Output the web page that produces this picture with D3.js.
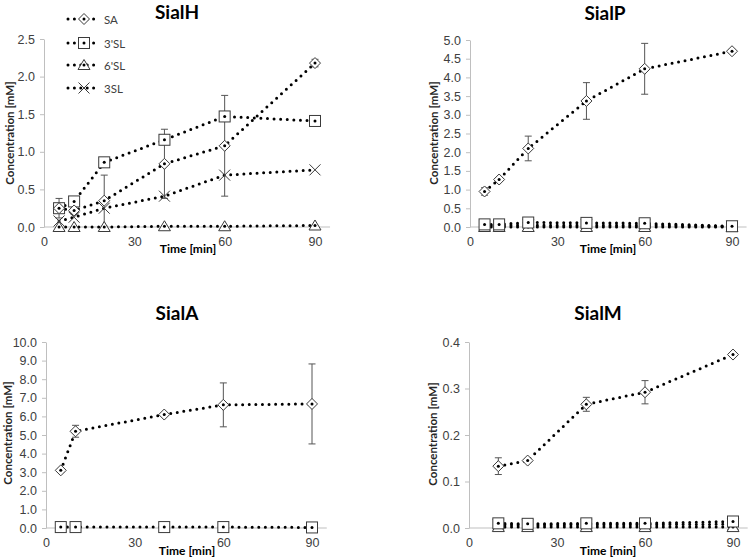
<!DOCTYPE html>
<html>
<head>
<meta charset="utf-8">
<script src="https://cdn.jsdelivr.net/npm/d3@7"></script>
<style>
  body { margin: 0; background: #fff; }
  svg { display: block; font-family: Lato, "Open Sans", sans-serif; }
</style>
</head>
<body>
<svg id="chart" width="750" height="557"></svg>
<script>
// ---------------- DATA ----------------
const seriesNames = ["SA", "3'SL", "6'SL", "3SL"];
const xTicks = [0, 30, 60, 90];

// SialH
const timesH = [5, 10, 20, 40, 60, 90];
const sialH_SA = [0.25, 0.22, 0.35, 0.84, 1.08, 2.18];
const sialH_SA_err = [0.13, 0.05, 0.34, 0.46, 0.67, 0.05];
const sialH_3SLp = [0.25, 0.34, 0.86, 1.16, 1.47, 1.41];
const sialH_6SLp = [0.0, 0.0, 0.0, 0.01, 0.01, 0.02];
const sialH_3SL = [0.08, 0.13, 0.25, 0.41, 0.69, 0.76];
const sialH_yTicks = [0.0, 0.5, 1.0, 1.5, 2.0, 2.5];

// SialP
const timesP = [5, 10, 20, 40, 60, 90];
const sialP_SA = [0.95, 1.27, 2.10, 3.37, 4.23, 4.70];
const sialP_SA_err = [0.10, 0.05, 0.33, 0.49, 0.68, 0.05];
const sialP_3SLp = [0.07, 0.07, 0.12, 0.11, 0.10, 0.02];
const sialP_6SLp = [0.0, 0.0, 0.0, 0.0, 0.0, 0.0];
const sialP_3SL = [0.04, 0.04, 0.05, 0.05, 0.05, 0.02];
const sialP_yTicks = [0.0, 0.5, 1.0, 1.5, 2.0, 2.5, 3.0, 3.5, 4.0, 4.5, 5.0];

// SialA
const timesA = [5, 10, 40, 60, 90];
const sialA_SA = [3.10, 5.20, 6.10, 6.62, 6.67];
const sialA_SA_err = [0.10, 0.32, 0.08, 1.18, 2.15];
const sialA_3SLp = [0.05, 0.05, 0.05, 0.05, 0.03];
const sialA_yTicks = [0, 1, 2, 3, 4, 5, 6, 7, 8, 9, 10];

// SialM
const timesM = [10, 20, 40, 60, 90];
const sialM_SA = [0.133, 0.145, 0.266, 0.292, 0.373];
const sialM_SA_err = [0.018, 0.004, 0.015, 0.025, 0.004];
const sialM_3SLp = [0.010, 0.009, 0.010, 0.010, 0.014];
const sialM_6SLp = [0.002, 0.002, 0.002, 0.002, 0.002];
const sialM_3SL = [0.007, 0.006, 0.007, 0.007, 0.008];
const sialM_yTicks = [0.0, 0.1, 0.2, 0.3, 0.4];

// ---------------- LAYOUT ----------------
const panels = [
  { title: "SialH", times: timesH, yTicks: sialH_yTicks, fmt: ".1f",
    series: [["SA", sialH_SA, sialH_SA_err], ["3'SL", sialH_3SLp], ["6'SL", sialH_6SLp], ["3SL", sialH_3SL]],
    x0: 44, x90: 315, y0: 227, yTop: 39, titleX: 177, titleY: 11, ylabX: 9, ylabY: 133, xlabX: 188, xlabY: 248, legend: true },
  { title: "SialP", times: timesP, yTicks: sialP_yTicks, fmt: ".1f",
    series: [["SA", sialP_SA, sialP_SA_err], ["3'SL", sialP_3SLp], ["6'SL", sialP_6SLp], ["3SL", sialP_3SL]],
    x0: 470, x90: 732, y0: 227, yTop: 40, titleX: 605, titleY: 12, ylabX: 433, ylabY: 133, xlabX: 608, xlabY: 248 },
  { title: "SialA", times: timesA, yTicks: sialA_yTicks, fmt: ".1f",
    series: [["SA", sialA_SA, sialA_SA_err], ["3'SL", sialA_3SLp]],
    x0: 46, x90: 312, y0: 528, yTop: 342, titleX: 177, titleY: 312, ylabX: 7, ylabY: 433, xlabX: 187, xlabY: 550 },
  { title: "SialM", times: timesM, yTicks: sialM_yTicks, fmt: ".1f",
    series: [["SA", sialM_SA, sialM_SA_err], ["3'SL", sialM_3SLp], ["6'SL", sialM_6SLp], ["3SL", sialM_3SL]],
    x0: 469, x90: 733, y0: 528, yTop: 342, titleX: 598, titleY: 312, ylabX: 432, ylabY: 434, xlabX: 608, xlabY: 550 }
];

const svg = d3.select("#chart");
const axisColor = "#bfbfbf";
const textColor = "#404040";
const markerStroke = "#3a3a3a";

function drawMarker(g, name, x, y) {
  const s = 5.5;
  if (name === "SA") {
    g.append("path").attr("d", `M${x},${y - s}L${x + s},${y}L${x},${y + s}L${x - s},${y}Z`)
      .attr("fill", "#fff").attr("stroke", markerStroke).attr("stroke-width", 1);
  } else if (name === "3'SL") {
    g.append("rect").attr("x", x - 5.5).attr("y", y - 5.5).attr("width", 11).attr("height", 11)
      .attr("fill", "#fff").attr("stroke", markerStroke).attr("stroke-width", 1);
  } else if (name === "6'SL") {
    g.append("path").attr("d", `M${x},${y - 5.5}L${x + 6},${y + 4.5}L${x - 6},${y + 4.5}Z`)
      .attr("fill", "#fff").attr("stroke", markerStroke).attr("stroke-width", 1);
  } else {
    g.append("path").attr("d", `M${x - 5.5},${y - 5.5}L${x + 5.5},${y + 5.5}M${x + 5.5},${y - 5.5}L${x - 5.5},${y + 5.5}`)
      .attr("fill", "none").attr("stroke", markerStroke).attr("stroke-width", 1);
  }
  if (name !== "3SL") {
    g.append("circle").attr("cx", x).attr("cy", y).attr("r", 1.5).attr("fill", "#000");
  }
}

panels.forEach(p => {
  const xs = d3.scaleLinear().domain([0, 90]).range([p.x0, p.x90]);
  const yMax = p.yTicks[p.yTicks.length - 1];
  const ys = d3.scaleLinear().domain([0, yMax]).range([p.y0, p.yTop]);
  const g = svg.append("g");

  // y axis
  const yAxis = d3.axisLeft(ys).tickValues(p.yTicks).tickFormat(d3.format(p.fmt)).tickSizeOuter(0).tickSizeInner(4).tickPadding(5);
  const ya = g.append("g").attr("transform", `translate(${p.x0},0)`).call(yAxis);
  ya.select(".domain").attr("stroke", axisColor);
  ya.selectAll(".tick line").attr("stroke", axisColor);
  ya.selectAll(".tick text").attr("fill", textColor).style("font-size", "12.5px");

  // x axis
  const xAxis = d3.axisBottom(xs).tickValues(xTicks).tickFormat(d3.format("d")).tickSize(0).tickPadding(10);
  const xa = g.append("g").attr("transform", `translate(0,${p.y0})`).call(xAxis);
  xa.select(".domain").attr("stroke", axisColor).attr("d", `M${p.x0},0H${xs(95)}`);
  xa.selectAll(".tick text").attr("fill", textColor).style("font-size", "12.5px");

  // titles
  g.append("text").attr("x", p.titleX).attr("y", p.titleY).attr("text-anchor", "middle")
    .attr("dominant-baseline", "central").style("font-size", "19px").style("font-weight", "bold")
    .attr("fill", "#000").text(p.title);
  g.append("text").attr("transform", `translate(${p.ylabX},${p.ylabY}) rotate(-90)`)
    .attr("text-anchor", "middle").attr("dominant-baseline", "central")
    .style("font-size", "11.5px").style("font-weight", "bold").attr("fill", "#262626").text("Concentration [mM]");
  g.append("text").attr("x", p.xlabX).attr("y", p.xlabY).attr("text-anchor", "middle")
    .attr("dominant-baseline", "central").style("font-size", "12px").style("font-weight", "bold")
    .attr("fill", "#000").text("Time [min]");

  // lines
  const line = d3.line().x(d => xs(d[0])).y(d => ys(d[1]));
  p.series.forEach(([name, vals]) => {
    const pts = p.times.map((t, i) => [t, vals[i]]);
    g.append("path").attr("d", line(pts)).attr("fill", "none").attr("stroke", "#000")
      .attr("stroke-width", 3).attr("stroke-linecap", "round").attr("stroke-dasharray", "0,6.6");
  });

  // error bars
  p.series.forEach(([name, vals, errs]) => {
    if (!errs) return;
    p.times.forEach((t, i) => {
      const x = xs(t), yl = ys(Math.max(0, vals[i] - errs[i])), yh = ys(vals[i] + errs[i]);
      g.append("path").attr("d", `M${x},${yl}V${yh}M${x - 3.5},${yl}H${x + 3.5}M${x - 3.5},${yh}H${x + 3.5}`)
        .attr("stroke", "#555").attr("stroke-width", 1).attr("fill", "none");
    });
  });

  // markers
  p.series.slice().reverse().forEach(([name, vals]) => {
    p.times.forEach((t, i) => drawMarker(g, name, xs(t), ys(vals[i])));
  });

  // legend
  if (p.legend) {
    const ly = [19, 43, 65, 88];
    seriesNames.forEach((name, i) => {
      const lg = svg.append("g");
      lg.append("path").attr("d", `M68,${ly[i]}H100`).attr("stroke", "#000").attr("stroke-width", 3)
        .attr("stroke-linecap", "round").attr("stroke-dasharray", "0,6.4");
      drawMarker(lg, name, 84, ly[i]);
      lg.append("text").attr("x", 104).attr("y", ly[i]).attr("dominant-baseline", "central")
        .style("font-size", "11.5px").attr("fill", textColor).text(name);
    });
  }
});
</script>
</body>
</html>
